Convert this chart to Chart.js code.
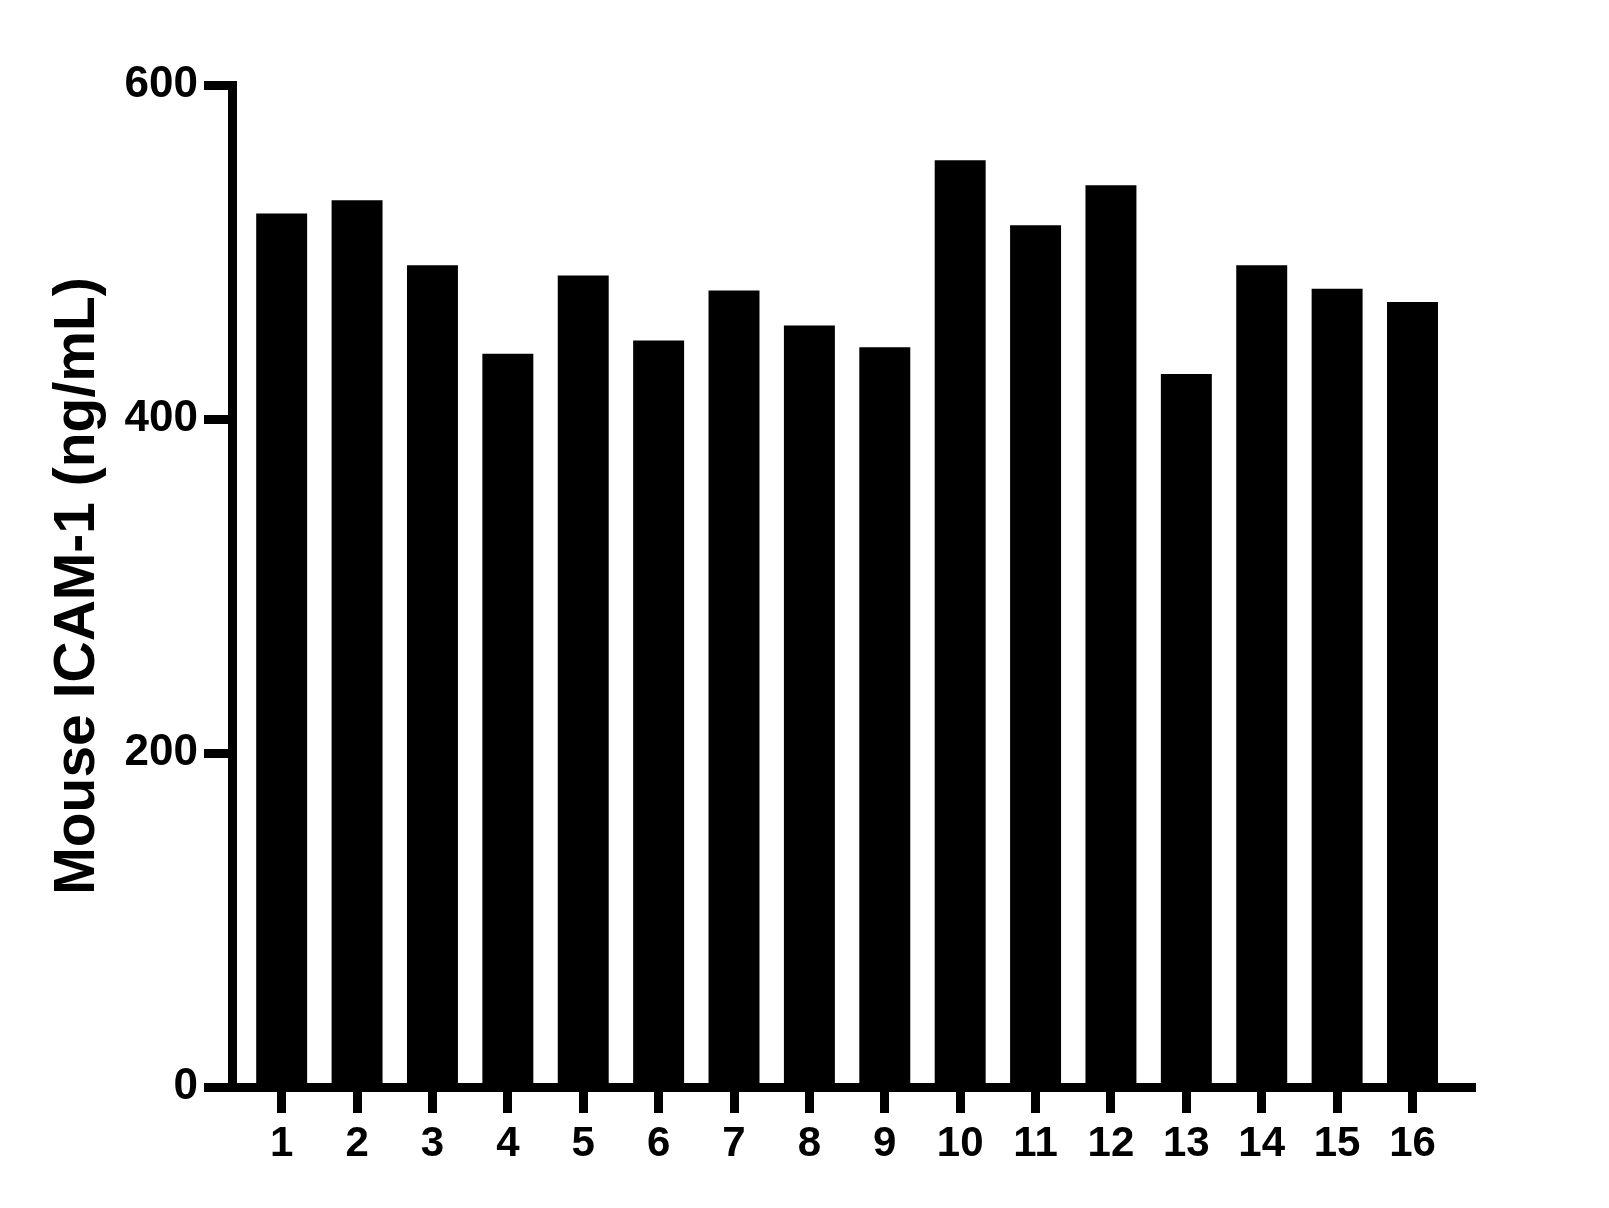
<!DOCTYPE html>
<html>
<head>
<meta charset="utf-8">
<script src="https://cdn.jsdelivr.net/npm/chart.js@4"></script>
<style>
  html, body { margin: 0; padding: 0; background: #fff; }
  #wrap { width: 1609px; height: 1208px; position: relative; }
</style>
</head>
<body>
<div id="wrap"><canvas id="c"></canvas></div>
<script>
const categories = ['1','2','3','4','5','6','7','8','9','10','11','12','13','14','15','16'];
const values = [523, 531, 492, 439, 486, 447, 477, 456, 443, 555, 516, 540, 427, 492, 478, 470];
const yTicks = [0, 200, 400, 600];
const yTitle = 'Mouse ICAM-1 (ng/mL)';

const FONT = "'Liberation Sans', Arial, Helvetica, sans-serif";

new Chart(document.getElementById('c'), {
  type: 'bar',
  data: {
    datasets: [{
      data: values.map((v, i) => ({ x: i + 1, y: v })),
      backgroundColor: '#000',
      borderWidth: 0,
      barPercentage: 0.676,
      categoryPercentage: 1
    }]
  },
  options: {
    responsive: true,
    maintainAspectRatio: false,
    animation: false,
    layout: { padding: { left: 0, right: 134, top: 85, bottom: 21 } },
    plugins: { legend: { display: false }, tooltip: { enabled: false } },
    scales: {
      x: {
        type: 'linear',
        offset: false,
        min: 0.341,
        max: 16.829,
        afterBuildTicks: s => { s.ticks = categories.map((c, i) => ({ value: i + 1 })); },
        afterFit: s => { s.height = 100; },
        grid: { offset: false, drawOnChartArea: false, drawTicks: true, tickLength: 26, tickWidth: 9, tickColor: '#000' },
        border: { display: true, width: 9, color: '#000' },
        ticks: {
          autoSkip: false, maxRotation: 0, minRotation: 0, padding: 6,
          color: '#000',
          font: { family: FONT, size: 42, weight: 'bold', lineHeight: 1.2 },
          callback: v => categories[v - 1] ?? ''
        }
      },
      y: {
        min: yTicks[0],
        max: yTicks[yTicks.length - 1],
        afterBuildTicks: s => { s.ticks = yTicks.map(v => ({ value: v })); },
        afterFit: s => { s.width = 232; },
        grid: { drawOnChartArea: false, drawTicks: true, tickLength: 28, tickWidth: 9, tickColor: '#000' },
        border: { display: true, width: 9, color: '#000' },
        ticks: {
          padding: 6,
          color: '#000',
          font: { family: FONT, size: 44, weight: 'bold', lineHeight: 1.2 }
        },
        title: {
          display: true,
          text: yTitle,
          color: '#000',
          font: { family: FONT, size: 57, weight: 'bold', lineHeight: 1 },
          padding: { top: 50, bottom: 0 }
        }
      }
    }
  }
});
</script>
</body>
</html>
